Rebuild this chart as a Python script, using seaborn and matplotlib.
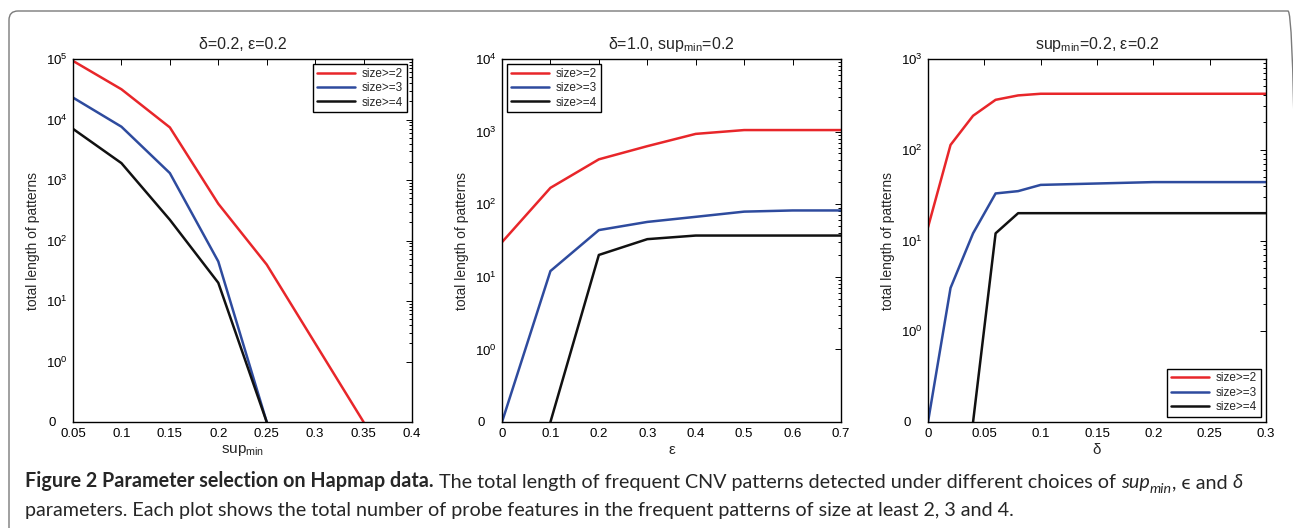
import numpy as np
import pandas as pd
import matplotlib
matplotlib.use("Agg")
import matplotlib.pyplot as plt
import seaborn as sns
from matplotlib.ticker import FixedLocator, FuncFormatter, NullFormatter
from matplotlib.patches import FancyBboxPatch

# ---- data (0 means no patterns) ----
series = ["size>=2", "size>=3", "size>=4"]
colors = {"size>=2": "#e8262a", "size>=3": "#2e4b9e", "size>=4": "#111111"}

# panel 1: delta=0.2, eps=0.2, varying sup_min
sup_x = [0.05, 0.10, 0.15, 0.20, 0.25, 0.30, 0.35]
sup_s2 = [93000, 31600, 7400, 405, 40, 2, 0]
sup_s3 = [23000, 7600, 1300, 45, 0, 0, 0]
sup_s4 = [7000, 1900, 220, 20, 0, 0, 0]

# panel 2: delta=1.0, sup_min=0.2, varying epsilon
eps_x = [0.0, 0.1, 0.2, 0.3, 0.4, 0.5, 0.6, 0.7]
eps_s2 = [30, 168, 415, 630, 930, 1050, 1050, 1050]
eps_s3 = [0, 12, 44, 57, 67, 79, 82, 82]
eps_s4 = [0, 0, 20, 33, 37, 37, 37, 37]

# panel 3: sup_min=0.2, eps=0.2, varying delta
del_x = [0.0, 0.02, 0.04, 0.06, 0.08, 0.10, 0.20, 0.30]
del_s2 = [14, 113, 237, 355, 397, 414, 414, 414]
del_s3 = [0, 3, 12, 33, 35, 41, 44, 44]
del_s4 = [0, 0, 0, 12, 20, 20, 20, 20]

sns.set_style("white")
plt.rcParams["font.family"] = ["Liberation Sans", "DejaVu Sans"]
plt.rcParams["mathtext.fontset"] = "custom"
plt.rcParams["mathtext.rm"] = "Liberation Sans"
plt.rcParams["mathtext.it"] = "Liberation Sans:italic"
plt.rcParams["mathtext.bf"] = "Liberation Sans:bold"

ZERO = 0.1  # where MATLAB put the "0" row on the log axis


def long_df(x, s2, s3, s4):
    # a zero is only drawn where the line comes down to (or rises from) it
    rows = []
    for name, vals in zip(series, [s2, s3, s4]):
        for i, (xv, yv) in enumerate(zip(x, vals)):
            if yv == 0:
                nb = [vals[j] for j in (i - 1, i + 1) if 0 <= j < len(vals)]
                if not any(v > 0 for v in nb):
                    continue
            rows.append({"x": xv, "y": max(yv, ZERO), "series": name})
    return pd.DataFrame(rows)


fig = plt.figure(figsize=(12.93, 5.28), dpi=100)
W, H = 1293, 528


def add_axes(left, right, top=59, bottom=422):
    return fig.add_axes([left / W, 1 - bottom / H, (right - left) / W, (bottom - top) / H])


panels = [
    dict(ax=add_axes(73, 412), df=long_df(sup_x, sup_s2, sup_s3, sup_s4),
         xlim=(0.05, 0.4), xticks=[0.05, 0.1, 0.15, 0.2, 0.25, 0.3, 0.35, 0.4],
         xtl=["0.05", "0.1", "0.15", "0.2", "0.25", "0.3", "0.35", "0.4"],
         top=5, title=r"δ=0.2, ε=0.2", xlabel=r"sup$_{\mathrm{min}}$", loc="upper right"),
    dict(ax=add_axes(502, 841), df=long_df(eps_x, eps_s2, eps_s3, eps_s4),
         xlim=(0, 0.7), xticks=[0, 0.1, 0.2, 0.3, 0.4, 0.5, 0.6, 0.7],
         xtl=["0", "0.1", "0.2", "0.3", "0.4", "0.5", "0.6", "0.7"],
         top=4, title=r"δ=1.0, sup$_{\mathrm{min}}$=0.2", xlabel="ε", loc="upper left"),
    dict(ax=add_axes(928, 1266), df=long_df(del_x, del_s2, del_s3, del_s4),
         xlim=(0, 0.3), xticks=[0, 0.05, 0.1, 0.15, 0.2, 0.25, 0.3],
         xtl=["0", "0.05", "0.1", "0.15", "0.2", "0.25", "0.3"],
         top=3, title=r"sup$_{\mathrm{min}}$=0.2, ε=0.2", xlabel="δ", loc="lower right"),
]


def ylab(v, pos):
    if np.isclose(v, ZERO):
        return "0   "
    return r"$10^{%d}$" % int(round(np.log10(v)))


for p in panels:
    ax = p["ax"]
    sns.lineplot(data=p["df"], x="x", y="y", hue="series", hue_order=series,
                 palette=colors, linewidth=1.8, ax=ax, legend=False)
    ax.set_yscale("log")
    ax.set_ylim(ZERO, 10 ** p["top"])
    ax.set_xlim(*p["xlim"])
    ax.yaxis.set_major_locator(FixedLocator([ZERO] + [10.0 ** k for k in range(0, p["top"] + 1)]))
    ax.yaxis.set_major_formatter(FuncFormatter(ylab))
    minors = [m * 10.0 ** k for k in range(0, p["top"]) for m in range(2, 10)]
    ax.yaxis.set_minor_locator(FixedLocator(minors))
    ax.yaxis.set_minor_formatter(NullFormatter())
    ax.set_xticks(p["xticks"])
    ax.set_xticklabels(p["xtl"])
    ax.tick_params(which="both", direction="in", top=True, right=True, labelsize=9.5,
                   width=0.7, colors="black")
    ax.tick_params(which="major", length=4, pad=4)
    ax.tick_params(which="minor", length=2)
    for s in ax.spines.values():
        s.set_linewidth(1.0)
        s.set_color("black")
    ax.set_title(p["title"], fontsize=11.5, pad=7)
    ax.set_xlabel(p["xlabel"], fontsize=11, labelpad=2.5)
    ax.set_ylabel("total length of patterns", fontsize=10, labelpad=4)
    handles = [plt.Line2D([], [], color=colors[s], lw=1.8) for s in series]
    leg = ax.legend(handles, series, loc=p["loc"], fontsize=8.5, frameon=True, fancybox=False,
                    edgecolor="black", framealpha=1, handlelength=3.2, borderaxespad=0.45,
                    labelspacing=0.2, handletextpad=0.6, borderpad=0.3)
    leg.get_frame().set_linewidth(1.0)

# rounded frame around the figure (open at the bottom/right page edges)
frame = FancyBboxPatch((9 / 100, -1.0), (1297 - 9) / 100, (H - 11) / 100 + 1.0,
                       boxstyle="round,pad=0,rounding_size=0.09",
                       transform=fig.dpi_scale_trans, fill=False,
                       edgecolor="#7a7a7a", linewidth=1.0, clip_on=False)
fig.patches.append(frame)

# caption with mixed bold / regular / italic pieces
cap = ["Lato", "DejaVu Sans"]
fs = 14.2


def after(prev, s, dy=0, size=fs, **kw):
    return plt.annotate(s, xy=(1, 0), xycoords=prev, xytext=(0, dy), textcoords="offset points",
                        va="bottom", ha="left", fontsize=size, family=cap,
                        annotation_clip=False, **kw)


t = fig.text(25 / W, 1 - 487 / H, "Figure 2 Parameter selection on Hapmap data.", fontsize=fs,
             family=cap, weight="bold", va="baseline", ha="left")
t = after(t, " The total length of frequent CNV patterns detected under different choices of ")
t = after(t, "sup", style="italic")
t = after(t, "min", dy=-2.8, size=fs * 0.72, style="italic")
t = after(t, ", ϵ and ", dy=2.8)
t = after(t, "δ", style="italic")
fig.text(25 / W, 1 - 516 / H,
         "parameters. Each plot shows the total number of probe features in the frequent patterns of size at least 2, 3 and 4.",
         fontsize=fs, family=cap, va="baseline", ha="left")

plt.savefig("out.png", dpi=100)
plt.close()
